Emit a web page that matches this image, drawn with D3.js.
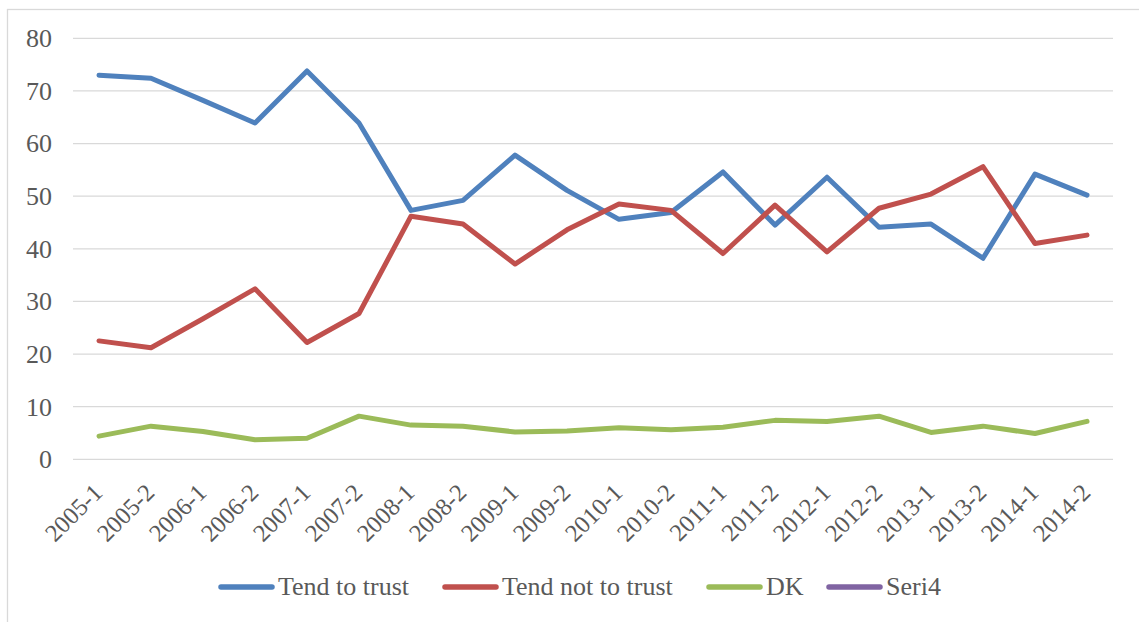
<!DOCTYPE html>
<html><head><meta charset="utf-8">
<script src="https://cdn.jsdelivr.net/npm/d3@7"></script>
<style>body{margin:0;background:#fff}svg{display:block}</style>
</head><body>
<script>
const categories = ["2005-1","2005-2","2006-1","2006-2","2007-1","2007-2","2008-1","2008-2","2009-1","2009-2","2010-1","2010-2","2011-1","2011-2","2012-1","2012-2","2013-1","2013-2","2014-1","2014-2"];
const trust    = [73.0,72.4,68.2,63.9,73.8,63.9,47.3,49.2,57.8,51.1,45.6,46.9,54.6,44.5,53.6,44.1,44.7,38.2,54.2,50.2];
const notTrust = [22.5,21.2,26.7,32.4,22.2,27.7,46.2,44.7,37.1,43.6,48.5,47.3,39.1,48.3,39.4,47.7,50.4,55.6,41.0,42.6];
const dk       = [4.4,6.3,5.3,3.7,4.0,8.2,6.5,6.3,5.2,5.4,6.0,5.6,6.1,7.4,7.2,8.2,5.1,6.3,4.9,7.2];
const seri4    = [];
const seriesNames = ["Tend to trust","Tend not to trust","DK","Seri4"];
const seriesColors = ["#4F81BD","#C0504D","#9BBB59","#8064A2"];
const yTicks = [0,10,20,30,40,50,60,70,80];

const W = 1139, H = 622;
const font = "Liberation Serif";
const textColor = "#595959";
const svg = d3.select("body").append("svg").attr("width", W).attr("height", H)
  .style("font-family", font);

// outer frame
svg.append("rect").attr("x", 7.5).attr("y", 9.5).attr("width", W).attr("height", H)
  .attr("fill", "none").attr("stroke", "#D9D9D9").attr("stroke-width", 1.3);

const x = d3.scaleBand().domain(categories).range([73, 1113]);
const y = d3.scaleLinear().domain([0, 80]).range([459.3, 38.3]);

// gridlines
svg.append("g").selectAll("line").data(yTicks).join("line")
  .attr("x1", 73).attr("x2", 1113)
  .attr("y1", d => y(d)).attr("y2", d => y(d))
  .attr("stroke", "#D9D9D9").attr("stroke-width", 1.3);

// y axis labels
const yAxis = d3.axisLeft(y).tickValues(yTicks).tickSize(0).tickPadding(0);
const gy = svg.append("g").attr("transform", "translate(52,0)").call(yAxis);
gy.select(".domain").remove();
gy.attr("font-family", font).attr("font-size", 26);
gy.selectAll("text").style("font-family", font).style("font-size", "26px").attr("fill", textColor);

// x axis labels
const xAxis = d3.axisBottom(x).tickSize(0).tickPadding(0);
const gx = svg.append("g").call(xAxis);
gx.select(".domain").remove();
gx.attr("font-family", font).attr("font-size", 24.5);
gx.selectAll(".tick").attr("transform", d => `translate(${x(d) + x.bandwidth() / 2 + 5},494)`);
gx.selectAll("text")
  .style("font-family", font).style("font-size", "24.5px").attr("fill", textColor)
  .attr("text-anchor", "end").attr("y", 0).attr("dy", 0)
  .attr("transform", "rotate(-45)");

// lines
const line = d3.line().x((d, i) => x(categories[i]) + x.bandwidth() / 2).y(d => y(d));
const all = [trust, notTrust, dk, seri4];
all.forEach((s, k) => {
  if (!s.length) return;
  svg.append("path").datum(s).attr("d", line)
    .attr("fill", "none").attr("stroke", seriesColors[k]).attr("stroke-width", 5)
    .attr("stroke-linejoin", "round").attr("stroke-linecap", "round");
});

// legend
const legendX = [219, 443, 707, 827];
const lg = svg.append("g");
seriesNames.forEach((n, k) => {
  const g = lg.append("g").attr("transform", `translate(${legendX[k]},587)`);
  g.append("line").attr("x1", 2).attr("x2", 53).attr("stroke", seriesColors[k])
    .attr("stroke-width", 5.5).attr("stroke-linecap", "round");
  g.append("text").attr("x", 59).attr("y", 8)
    .style("font-family", font).style("font-size", "26px").attr("fill", textColor).text(n);
});
</script>
</body></html>
